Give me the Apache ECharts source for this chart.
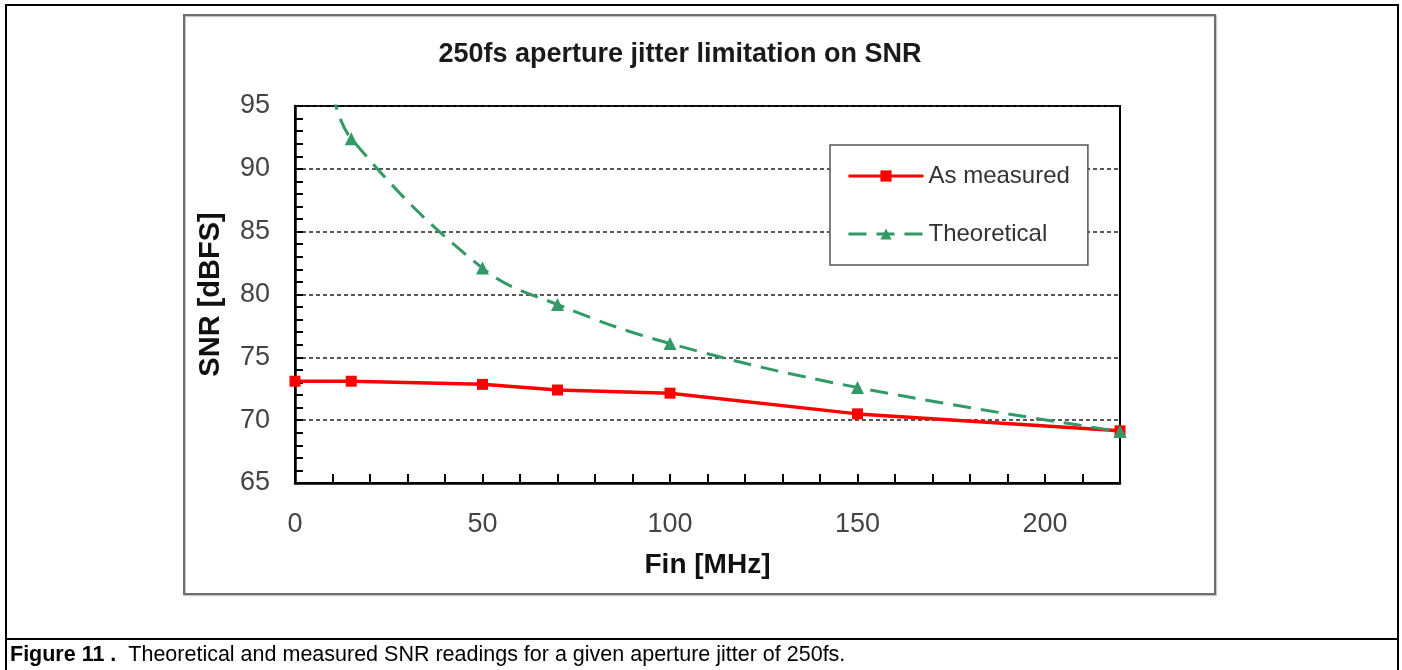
<!DOCTYPE html>
<html>
<head>
<meta charset="utf-8">
<script src="https://cdn.jsdelivr.net/npm/echarts@6/dist/echarts.min.js"></script>
<style>
html,body{margin:0;padding:0;background:#fff;}
#c{width:1402px;height:670px;}
</style>
</head>
<body>
<div id="c"></div>
<script>
const titleText = '250fs aperture jitter limitation on SNR';
const xName = 'Fin [MHz]';
const yName = 'SNR [dBFS]';
const measuredFin = [0, 15, 50, 70, 100, 150, 220];
const measuredSnr = [73.1, 73.1, 72.85, 72.4, 72.15, 70.5, 69.15];
const theoFin = [10, 15, 50, 70, 100, 150, 220];
const theoSnr = [96.1, 92.4, 82.1, 79.2, 76.1, 72.6, 69.1];
const seriesNames = ['As measured', 'Theoretical'];
const xLabelValues = [0, 50, 100, 150, 200];
const captionBold = 'Figure 11 .';
const captionText = '  Theoretical and measured SNR readings for a given aperture jitter of 250fs.';

const chart = echarts.init(document.getElementById('c'));
const font = 'Liberation Sans, Arial, sans-serif';
const narrow = '"Liberation Sans Narrow", "Arial Narrow", "Liberation Sans", Arial, sans-serif';

chart.setOption({
  animation: false,
  backgroundColor: '#fff',
  textStyle: {fontFamily: font},
  graphic: [
    {type: 'rect', silent: true, shape: {x: 6, y: 5, width: 1392, height: 700},
     style: {fill: 'none', stroke: '#000', lineWidth: 2}},
    {type: 'line', silent: true, shape: {x1: 6, y1: 639, x2: 1398, y2: 639},
     style: {stroke: '#000', lineWidth: 2}},
    {type: 'rect', silent: true, shape: {x: 184, y: 15, width: 1031, height: 579},
     style: {fill: 'none', stroke: '#6e6e6e', lineWidth: 2, shadowColor: 'rgba(0,0,0,0.25)', shadowOffsetX: 1, shadowOffsetY: 1, shadowBlur: 1}},
    {type: 'text', left: 10, top: 644,
     style: {
       text: '{b|' + captionBold + '}{n|' + captionText + '}',
       rich: {
         b: {fontFamily: narrow, fontWeight: 'bold', fontSize: 21.5, fill: '#000'},
         n: {fontFamily: narrow, fontSize: 21.5, fill: '#000'}
       }
     }},
    {type: 'text', x: 680, y: 55,
     style: {text: titleText, fontFamily: font, fontWeight: 'bold', fontSize: 27, fill: '#1a1a1a', textAlign: 'center', textVerticalAlign: 'middle'}}
  ],
  legend: {
    orient: 'vertical',
    left: 830, top: 145,
    padding: [19, 18, 19, 17],
    itemWidth: 75, itemHeight: 14, itemGap: 34,
    borderColor: '#555', borderWidth: 1.5,
    backgroundColor: '#fff',
    lineStyle: {width: 3},
    textStyle: {fontSize: 24, color: '#333', fontFamily: font},
    data: seriesNames
  },
  grid: {left: 295, top: 106, right: 282, bottom: 187, show: true, borderColor: '#000', borderWidth: 2, backgroundColor: 'transparent'},
  xAxis: {
    type: 'value', min: 0, max: 220, interval: 10,
    name: xName, nameLocation: 'middle', nameGap: 68,
    nameTextStyle: {fontSize: 28, fontWeight: 'bold', color: '#111', fontFamily: font},
    axisLine: {lineStyle: {color: '#000', width: 2.5}},
    axisTick: {inside: true, length: 9, lineStyle: {color: '#000', width: 2}},
    axisLabel: {fontSize: 27, color: '#444', margin: 28,
      formatter: v => xLabelValues.indexOf(v) >= 0 ? String(v) : ''},
    splitLine: {show: false}
  },
  yAxis: {
    type: 'value', min: 65, max: 95, interval: 5,
    name: yName, nameLocation: 'middle', nameGap: 70,
    nameTextStyle: {fontSize: 29, fontWeight: 'bold', color: '#111', fontFamily: font},
    axisLine: {lineStyle: {color: '#000', width: 2.5}},
    axisTick: {inside: true, length: 8, lineStyle: {color: '#000', width: 2}},
    minorTick: {show: true, splitNumber: 5, length: 8, lineStyle: {color: '#000', width: 2}},
    axisLabel: {fontSize: 27, color: '#444', margin: 25},
    splitLine: {show: true, lineStyle: {color: '#222', width: 1.5, type: [4, 3]}}
  },
  series: [
    {
      name: seriesNames[0], type: 'line', smooth: false,
      data: measuredFin.map((f, i) => [f, measuredSnr[i]]),
      symbol: 'rect', symbolSize: 11, clip: true,
      lineStyle: {color: '#ff0000', width: 3.5},
      itemStyle: {color: '#ff0000'}
    },
    {
      name: seriesNames[1], type: 'line', smooth: 0.4,
      data: theoFin.map((f, i) => [f, theoSnr[i]]),
      symbol: 'triangle', symbolSize: 13, clip: true,
      lineStyle: {color: '#339966', width: 3, type: [18, 10]},
      itemStyle: {color: '#339966'}
    }
  ]
});
</script>
</body>
</html>
